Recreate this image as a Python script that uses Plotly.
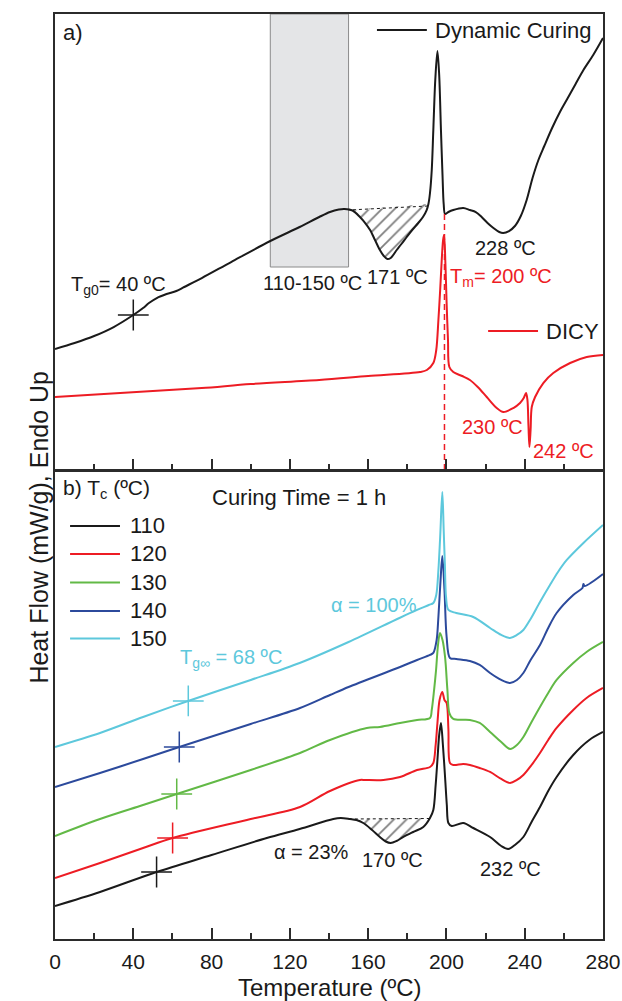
import plotly.graph_objects as go

# ---------------- data ----------------
# Panel a: dynamic curing (black) and DICY (red); heat flow in arbitrary units (endo up)
T_DYN = [0, 10, 20, 30, 40, 45, 48, 52, 57, 62, 66, 75, 90, 110, 125, 135, 140.5, 145, 148, 152,
         155.8, 158.5, 161, 163.5, 166, 168, 169.8, 171.5, 174.6, 177, 179.7, 182.5, 185.6, 188,
         189.9, 190.8, 191.6, 192.5, 193.3, 194.3, 195.4, 196.3, 197.2, 198.0, 198.6, 199.3, 201,
         203.5, 208.6, 212, 215, 218, 221, 224, 227, 229, 232, 235, 238, 241, 244, 247, 250, 254,
         258, 262, 266, 270, 275, 280]
HF_DYN = [12.1, 12.7, 13.4, 14.3, 15.5, 16.2, 16.7, 17.2, 17.6, 17.9, 18.3, 19.2, 20.8, 22.9, 24.3,
          25.3, 25.8, 26.05, 26.1, 25.95, 25.3, 24.7, 24.0, 23.0, 22.0, 21.4, 21.1, 21.2, 22.0, 22.6,
          23.3, 24.0, 24.7, 25.3, 26.0, 26.6, 27.7, 30.0, 34.0, 39.0, 41.9, 39.5, 34.0, 29.5, 26.6,
          25.6, 25.8, 26.0, 26.2, 26.0, 25.8, 25.3, 24.7, 24.2, 23.8, 23.7, 23.9, 24.4, 25.4, 27.0,
          29.2, 31.0, 32.4, 34.2, 35.8, 37.2, 38.6, 40.0, 41.5, 43.2]

T_DICY = [0, 25, 50, 75, 100, 135, 160, 186.5, 190, 193.3, 194.8, 195.9, 196.8, 197.6, 198.3, 198.8,
          199.5, 200.1, 200.8, 201.5, 203.5, 208, 212, 216, 220.6, 225.7, 229.1, 234.2, 237.6, 239.5,
          240.7, 241.4, 241.9, 242.4, 243.0, 243.6, 245.3, 249.5, 254.6, 263.2, 271.7, 280]
HF_DICY = [7.3, 7.6, 7.9, 8.2, 8.6, 9.0, 9.4, 9.8, 10.0, 10.7, 12.0, 15.0, 18.0, 21.0, 23.0, 23.5,
           20.5, 16.7, 13.0, 10.3, 9.8, 9.4, 9.0, 8.3, 7.3, 6.2, 5.8, 6.2, 6.7, 7.2, 7.7, 7.0, 4.5,
           2.3, 4.0, 6.3, 7.3, 8.7, 9.7, 10.7, 11.3, 11.5]

HATCH_A_T = [150, 190.5]
HATCH_A_HF = [26.0, 26.4]
TM = 199
TM_TOP = 25.6
TG0_T, TG0_HF = 40, 15.5
BOX_T = [110, 150]
BOX_HF_BOTTOM = 20.3

# Panel b: isothermal pre-cure at Tc for 1 h, then dynamic scan
T_110 = [0, 23, 51.9, 80, 108.2, 125, 142.2, 146, 150.7, 154, 157.5, 162, 166, 169, 171.5, 174.5,
         178, 183, 188.2, 191.6, 193.3, 194.5, 195.4, 196.3, 197.2, 198.2, 199.3, 200.2, 201, 202.7,
         208.6, 213.7, 222.3, 228, 231.6, 235, 239.3, 243.5, 247.8, 252, 256.3, 264.8, 273, 280]
HF_110 = [3.3, 4.7, 6.7, 8.4, 10.1, 11.0, 12.0, 12.1, 12.0, 11.9, 11.6, 10.9, 10.2, 9.75, 9.6, 9.8,
          10.2, 10.7, 11.2, 12.1, 12.9, 15.4, 17.9, 20.4, 21.6, 19.4, 16.2, 13.4, 11.6, 11.3, 11.6,
          11.1, 10.2, 9.3, 9.0, 9.4, 10.2, 11.7, 13.2, 14.8, 16.2, 18.4, 19.9, 20.7]

T_120 = [0, 23, 45, 60.1, 100, 125.2, 140.5, 155.8, 158.4, 167.8, 176.3, 185, 191.6, 193.3, 194.5,
         195.4, 196.5, 197.9, 199.0, 200.1, 201, 201.8, 203.5, 208.6, 212, 217, 222.3, 228, 232.5,
         236, 239.3, 243.5, 247.8, 252, 256.3, 264.8, 271.6, 280]
HF_120 = [6.1, 7.6, 9.1, 10.1, 12.0, 13.2, 14.8, 15.9, 15.9, 15.9, 16.2, 16.9, 17.2, 17.6, 19.4,
          21.6, 23.9, 24.7, 23.9, 23.6, 21.0, 17.6, 17.4, 17.5, 17.4, 17.1, 16.7, 16.0, 15.6, 15.9,
          16.4, 17.4, 18.6, 19.9, 21.1, 22.9, 24.1, 25.1]

T_130 = [0, 23, 45, 62.2, 100, 125.2, 140.5, 159.3, 166, 176.3, 185, 191.6, 192.5, 193.7, 194.7,
         195.7, 196.7, 198, 199.3, 200.5, 201.5, 203.5, 212, 217, 222.3, 228, 232.5, 236, 239.3,
         243.5, 247.8, 252, 256.3, 264.8, 271.6, 280]
HF_130 = [10.3, 12.0, 13.4, 14.5, 16.9, 18.6, 19.9, 21.1, 21.2, 21.6, 21.9, 22.1, 22.9, 24.9, 26.9,
          29.4, 30.6, 29.9, 28.2, 24.9, 22.6, 22.0, 21.9, 21.6, 20.7, 19.7, 19.0, 19.4, 20.2, 21.7,
          23.2, 24.6, 25.9, 27.6, 28.7, 29.7]

T_140 = [0, 23, 45, 63.5, 100, 125.2, 140.5, 150, 176.3, 185, 191.6, 193.3, 195, 195.9, 197, 197.9,
         199, 200.1, 201.8, 205, 212, 217, 222.3, 228, 232.5, 236, 239.3, 243, 247.8, 252, 256.3,
         264.8, 269.5, 270, 270.6, 280]
HF_140 = [15.2, 16.6, 18.0, 19.2, 21.5, 23.1, 24.4, 25.2, 27.2, 27.9, 28.4, 28.6, 29.9, 32.2, 35.9,
          38.3, 34.9, 30.2, 28.1, 28.0, 27.8, 27.4, 26.6, 25.9, 25.6, 25.9, 26.6, 27.9, 29.4, 31.1,
          32.6, 34.4, 35.1, 35.5, 35.3, 36.5]

T_150 = [0, 23, 45, 68, 100, 125, 150, 176, 185, 191, 193.3, 194.8, 195.9, 196.8, 197.9, 198.6,
         199.2, 199.8, 201, 205, 213.7, 222.3, 228, 232.5, 236, 239.3, 243, 247.8, 252.9, 257,
         261.5, 270, 280]
HF_150 = [19.2, 20.6, 22.2, 23.8, 25.9, 27.6, 29.7, 32.1, 32.9, 33.4, 33.6, 34.4, 36.9, 40.2, 44.7,
          40.9, 37.5, 34.2, 32.9, 32.6, 32.2, 31.1, 30.4, 30.1, 30.4, 30.9, 32.0, 33.7, 35.4, 36.7,
          37.9, 39.6, 41.4]

HATCH_B_T = [150.7, 191.5]
HATCH_B_HF = [12.0, 12.05]
TGINF_T = [51.9, 60.1, 62.2, 63.5, 68.1]
TGINF_HF = [6.7, 10.1, 14.5, 19.2, 23.8]

TC_LABELS = ["110", "120", "130", "140", "150"]
TICKS_T = [0, 40, 80, 120, 160, 200, 240, 280]

# ---------------- style ----------------
FONT = "Liberation Sans, Arial, Helvetica, sans-serif"
BLACK = "#1a1a1a"
RED = "#ED1C24"
GREEN = "#62B946"
BLUE = "#2C4A9C"
CYAN = "#5DC8DC"
TC_COLORS = [BLACK, RED, GREEN, BLUE, CYAN]
AXC = "#2b2b2b"
SMOOTH = 0.9

fig = go.Figure()

def curve(x, y, color, xa, ya, width=2.0):
    fig.add_trace(go.Scatter(x=x, y=y, mode="lines", xaxis=xa, yaxis=ya,
                             line=dict(color=color, width=width, shape="spline", smoothing=SMOOTH),
                             showlegend=False, hoverinfo="skip"))

def hatch(tx, ty, ht, hhf, xa, ya):
    seg_t = [t for t in tx if ht[0] <= t <= ht[1] + 0.5]
    seg_y = [y for t, y in zip(tx, ty) if ht[0] <= t <= ht[1] + 0.5]
    fig.add_trace(go.Scatter(x=seg_t, y=seg_y, mode="lines", xaxis=xa, yaxis=ya,
                             line=dict(width=0, color="rgba(0,0,0,0)", shape="spline",
                                       smoothing=SMOOTH),
                             showlegend=False, hoverinfo="skip"))
    fig.add_trace(go.Scatter(x=ht[::-1], y=hhf[::-1], mode="lines", xaxis=xa, yaxis=ya,
                             fill="tonexty", fillcolor="rgba(0,0,0,0)",
                             fillpattern=dict(shape="/", fgcolor="#000000", bgcolor="rgba(0,0,0,0)",
                                              size=9, solidity=0.2),
                             line=dict(color=BLACK, width=1, dash="3px,3px"),
                             showlegend=False, hoverinfo="skip"))

# panel a
hatch(T_DYN, HF_DYN, HATCH_A_T, HATCH_A_HF, "x", "y")
curve(T_DYN, HF_DYN, BLACK, "x", "y")
curve(T_DICY, HF_DICY, RED, "x", "y")
fig.add_trace(go.Scatter(x=[TM, TM], y=[0, TM_TOP], mode="lines", xaxis="x", yaxis="y",
                         line=dict(color=RED, width=1.5, dash="6px,4px"),
                         showlegend=False, hoverinfo="skip"))
fig.add_trace(go.Scatter(x=[TG0_T], y=[TG0_HF], mode="markers", xaxis="x", yaxis="y",
                         marker=dict(symbol="cross-thin", size=22, line=dict(color=BLACK, width=1.5)),
                         showlegend=False, hoverinfo="skip"))

# panel b
hatch(T_110, HF_110, HATCH_B_T, HATCH_B_HF, "x2", "y2")
for tx, ty, c in [(T_110, HF_110, BLACK), (T_120, HF_120, RED), (T_130, HF_130, GREEN),
                  (T_140, HF_140, BLUE), (T_150, HF_150, CYAN)]:
    curve(tx, ty, c, "x2", "y2")
fig.add_trace(go.Scatter(x=TGINF_T, y=TGINF_HF, mode="markers", xaxis="x2", yaxis="y2",
                         marker=dict(symbol="cross-thin", size=22,
                                     line=dict(color=TC_COLORS, width=1.5)),
                         showlegend=False, hoverinfo="skip"))

shapes = [
    dict(type="rect", xref="x", yref="y", x0=BOX_T[0], x1=BOX_T[1], y0=BOX_HF_BOTTOM, y1=45.6,
         fillcolor="#e4e5e7", line=dict(color="#8a8a8a", width=1), layer="below"),
    # legend samples panel a
    dict(type="line", xref="x", yref="y", x0=164.5, x1=190, y0=44.0, y1=44.0,
         line=dict(color=BLACK, width=2)),
    dict(type="line", xref="x", yref="y", x0=221.3, x1=246.8, y0=13.9, y1=13.9,
         line=dict(color=RED, width=2)),
]
LEG_Y = [41.3, 38.5, 35.65, 32.8, 30.05]
for c, ly in zip(TC_COLORS, LEG_Y):
    shapes.append(dict(type="line", xref="x2", yref="y2", x0=7.7, x1=33.2, y0=ly, y1=ly,
                       line=dict(color=c, width=2)))

def ann(text, x, y, xa, ya, color=BLACK, size=20, xanchor="center"):
    return dict(text=text, x=x, y=y, xref=xa, yref=ya, showarrow=False, xanchor=xanchor,
                yanchor="middle", font=dict(family=FONT, size=size, color=color))

annotations = [
    ann("a)", 3.2, 43.8, "x", "y", size=22, xanchor="left"),
    ann("Dynamic Curing", 193.3, 44.0, "x", "y", size=22, xanchor="left"),
    ann("DICY", 250.0, 13.9, "x", "y", size=22, xanchor="left"),
    ann("T<sub>g0</sub>= 40 ºC", 7.2, 18.5, "x", "y", xanchor="left"),
    ann("110-150 ºC", 131.8, 18.7, "x", "y"),
    ann("171 ºC", 175.2, 19.3, "x", "y"),
    ann("228 ºC", 230.0, 22.2, "x", "y"),
    ann("T<sub>m</sub>= 200 ºC", 201.0, 19.3, "x", "y", color=RED, xanchor="left"),
    ann("230 ºC", 223.3, 4.3, "x", "y", color=RED),
    ann("242 ºC", 259.6, 1.9, "x", "y", color=RED),
    ann("b) T<sub>c</sub> (ºC)", 3.2, 45.0, "x2", "y2", size=21, xanchor="left"),
    ann("Curing Time = 1 h", 124.6, 44.1, "x2", "y2", size=22),
    ann("T<sub>g∞</sub> = 68 ºC", 63.0, 28.0, "x2", "y2", color=CYAN, xanchor="left"),
    ann("α = 100%", 163.0, 33.4, "x2", "y2", color=CYAN),
    ann("α = 23%", 131.0, 8.7, "x2", "y2"),
    ann("170 ºC", 172.5, 7.9, "x2", "y2"),
    ann("232 ºC", 232.9, 7.0, "x2", "y2"),
    dict(text="Heat Flow (mW/g), Endo Up", x=-0.058, y=0.445, xref="paper", yref="paper",
         showarrow=False, textangle=-90, font=dict(family=FONT, size=25, color=BLACK)),
    dict(text="Temperature (ºC)", x=0.5, y=-0.052, xref="paper", yref="paper",
         showarrow=False, yanchor="middle", font=dict(family=FONT, size=24, color=BLACK)),
]
for lab, ly in zip(TC_LABELS, LEG_Y):
    annotations.append(ann(lab, 37.3, ly, "x2", "y2", size=22, xanchor="left"))

xcommon = dict(range=[0, 280], tickmode="array", tickvals=TICKS_T, ticks="inside", ticklen=11,
               tickwidth=1.5, tickcolor=AXC, showline=True, linecolor=AXC, linewidth=1.5,
               mirror=True, showgrid=False, zeroline=False, automargin=False,
               minor=dict(tickvals=[20, 60, 100, 140, 180, 220, 260], ticks="inside", ticklen=6,
                          tickwidth=1.5, tickcolor=AXC, showgrid=False))
ycommon = dict(showline=True, linecolor=AXC, linewidth=1.5, mirror=True, showgrid=False,
               zeroline=False, showticklabels=False, ticks="", fixedrange=True, automargin=False)

fig.update_layout(
    width=622, height=1001, autosize=False,
    margin=dict(l=55, r=19, t=14, b=62, autoexpand=False),
    paper_bgcolor="white", plot_bgcolor="white",
    font=dict(family=FONT, size=21, color=BLACK),
    showlegend=False,
    xaxis=dict(xcommon, anchor="y", showticklabels=False),
    yaxis=dict(ycommon, domain=[0.507, 1.0], range=[0, 45.6], anchor="x"),
    xaxis2=dict(xcommon, anchor="y2", showticklabels=True, ticklabelstandoff=3,
                tickfont=dict(family=FONT, size=21, color=BLACK)),
    yaxis2=dict(ycommon, domain=[0.0, 0.506], range=[0, 46.8], anchor="x2"),
    shapes=shapes,
    annotations=annotations,
)

POST = ("document.documentElement.style.margin='0';document.body.style.margin='0';"
        "document.body.style.padding='0';document.documentElement.style.overflow='hidden';"
        "document.body.style.overflow='hidden';"
        "var gd=document.getElementById('{plot_id}');"
        "Plotly.relayout(gd,{width:622,height:1001});")
fig.write_html("out.html", post_script=POST,
               config=dict(displayModeBar=False, responsive=False))
